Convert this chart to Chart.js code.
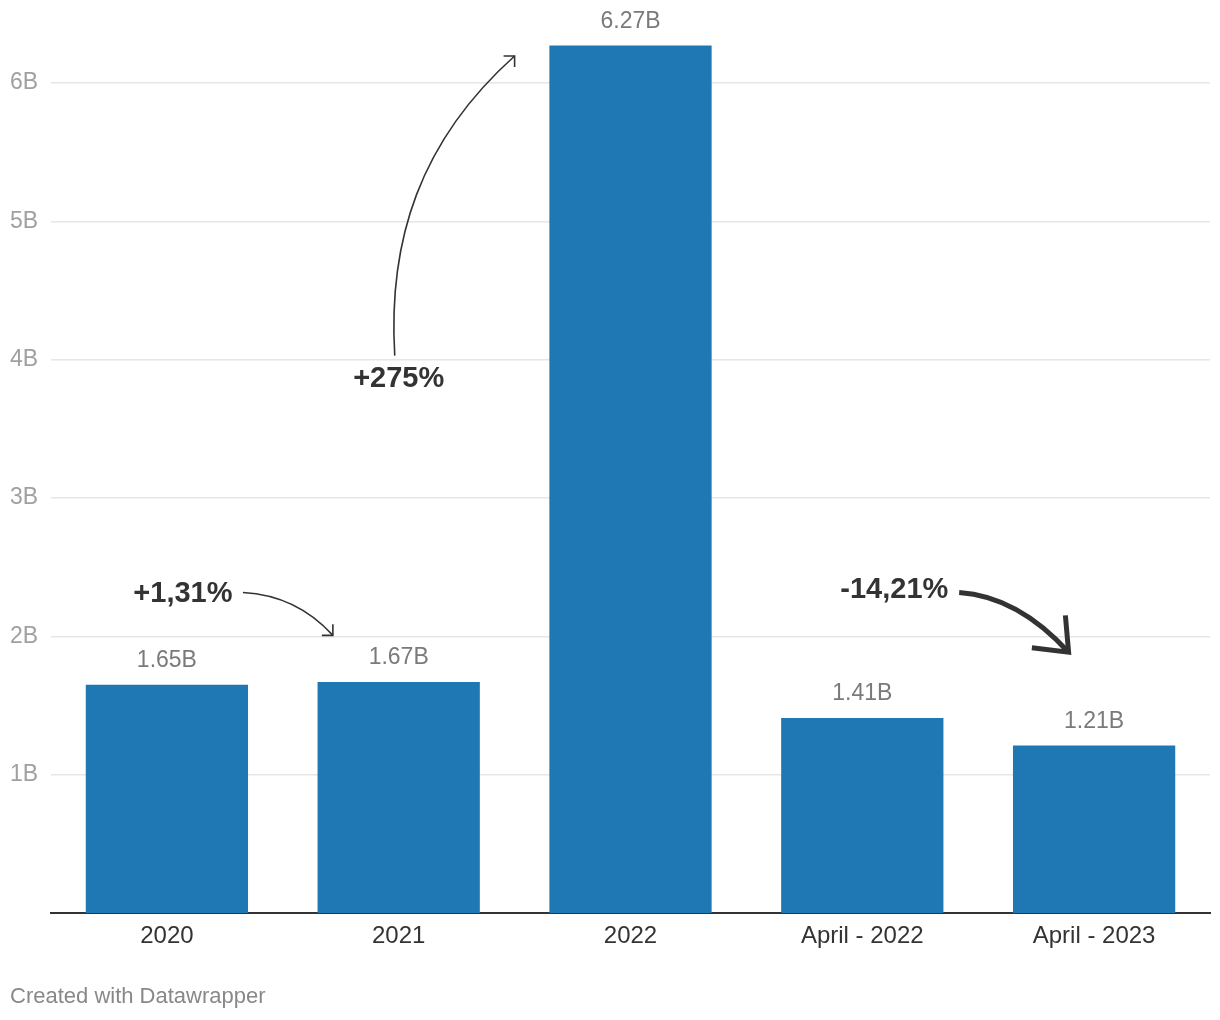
<!DOCTYPE html>
<html>
<head>
<meta charset="utf-8">
<script src="https://cdn.jsdelivr.net/npm/chart.js@4/dist/chart.umd.min.js"></script>
<style>
html,body{margin:0;padding:0;background:#fff;}
canvas{display:block;}
</style>
</head>
<body>
<canvas id="c" width="1220" height="1020"></canvas>
<script>
// ---- data ----
const categories = ['2020', '2021', '2022', 'April - 2022', 'April - 2023'];
const values = [1.65, 1.67, 6.27, 1.41, 1.21];
const yTickValues = [1, 2, 3, 4, 5, 6];
const yTickLabels = ['1B', '2B', '3B', '4B', '5B', '6B'];
const valueSuffix = 'B';
const footerText = 'Created with Datawrapper';

// annotations, anchored in data units: [category index, value]
const annotationTexts = ['+1,31%', '+275%', '-14,21%'];
const annotationAnchors = [[0.069, 2.303], [1.0, 3.863], [3.138, 2.332]];
const arrowPaths = [
  [[0.328, 2.317], [0.560, 2.296], [0.716, 2.007]],
  [[0.983, 4.029], [0.953, 4.859], [1.091, 5.581], [1.500, 6.195]],
  [[3.418, 2.317], [3.670, 2.289], [3.890, 1.885]]
];
const arrowWidths = [1.6, 1.6, 5];
const arrowHeadLen = [11, 11, 37];
const arrowHeadAngles = [45, -45, 46]; // degrees, screen direction of the arrow tip
const arrowHeadSpread = [45, 45, 39];  // half-angle of the open head, degrees

const FONT = '"Liberation Sans", Arial, Helvetica, sans-serif';

const valueLabels = {
  id: 'valueLabels',
  afterDatasetsDraw(chart) {
    const ctx = chart.ctx;
    const meta = chart.getDatasetMeta(0);
    ctx.save();
    ctx.font = '23px ' + FONT;
    ctx.fillStyle = '#7a7a7a';
    ctx.textAlign = 'center';
    ctx.textBaseline = 'middle';
    meta.data.forEach((bar, i) => {
      ctx.fillText(values[i].toFixed(2) + valueSuffix, bar.x, bar.y - 24);
    });
    ctx.restore();
  }
};

const annotations = {
  id: 'annotations',
  afterDraw(chart) {
    const ctx = chart.ctx;
    const xs = chart.scales.x, ys = chart.scales.y;
    const P = p => [xs.getPixelForValue(p[0]), ys.getPixelForValue(p[1])];
    ctx.save();
    // texts
    ctx.font = 'bold 29px ' + FONT;
    ctx.fillStyle = '#333333';
    ctx.textAlign = 'center';
    ctx.textBaseline = 'middle';
    annotationTexts.forEach((t, i) => {
      const [x, y] = P(annotationAnchors[i]);
      ctx.fillText(t, x, y);
    });
    // arrows
    ctx.strokeStyle = '#333333';
    arrowPaths.forEach((path, i) => {
      const pts = path.map(P);
      ctx.lineWidth = arrowWidths[i];
      ctx.lineCap = 'butt';
      ctx.lineJoin = 'miter';
      ctx.beginPath();
      ctx.moveTo(pts[0][0], pts[0][1]);
      if (pts.length === 3) ctx.quadraticCurveTo(pts[1][0], pts[1][1], pts[2][0], pts[2][1]);
      else ctx.bezierCurveTo(pts[1][0], pts[1][1], pts[2][0], pts[2][1], pts[3][0], pts[3][1]);
      ctx.stroke();
      const end = pts[pts.length - 1];
      const ang = arrowHeadAngles[i] * Math.PI / 180;
      const sp = arrowHeadSpread[i] * Math.PI / 180;
      const L = arrowHeadLen[i];
      ctx.beginPath();
      ctx.moveTo(end[0] - L * Math.cos(ang - sp), end[1] - L * Math.sin(ang - sp));
      ctx.lineTo(end[0], end[1]);
      ctx.lineTo(end[0] - L * Math.cos(ang + sp), end[1] - L * Math.sin(ang + sp));
      ctx.stroke();
    });
    // footer
    ctx.font = '22px ' + FONT;
    ctx.fillStyle = '#888888';
    ctx.textAlign = 'left';
    ctx.textBaseline = 'middle';
    ctx.fillText(footerText, 10, 997);
    ctx.restore();
  }
};

new Chart(document.getElementById('c'), {
  type: 'bar',
  data: {
    labels: categories,
    datasets: [{
      data: values,
      backgroundColor: '#1f77b4',
      borderWidth: 0,
      categoryPercentage: 1,
      barPercentage: 0.7
    }]
  },
  options: {
    responsive: false,
    animation: false,
    devicePixelRatio: 1,
    layout: { padding: { left: 10, right: 10, top: 12, bottom: 0 } },
    plugins: { legend: { display: false }, tooltip: { enabled: false } },
    scales: {
      x: {
        grid: { display: false, drawTicks: false },
        border: { display: true, color: '#333333', width: 2 },
        ticks: {
          color: '#333333',
          font: { family: FONT, size: 24 },
          padding: 9,
          maxRotation: 0,
          autoSkip: false
        },
        afterFit(s) { s.height = 107; }
      },
      y: {
        min: 0,
        max: 6.5,
        grid: { color: '#e6e6e6', lineWidth: 1.5, drawTicks: false },
        border: { display: false },
        afterBuildTicks(s) { s.ticks = yTickValues.map(v => ({ value: v })); },
        ticks: {
          color: '#a0a0a0',
          font: { family: FONT, size: 23 },
          crossAlign: 'far',
          padding: 0,
          callback(v) { const i = yTickValues.indexOf(v); return i >= 0 ? yTickLabels[i] : ''; }
        },
        afterFit(s) { s.width = 41; }
      }
    }
  },
  plugins: [valueLabels, annotations]
});
</script>
</body>
</html>
